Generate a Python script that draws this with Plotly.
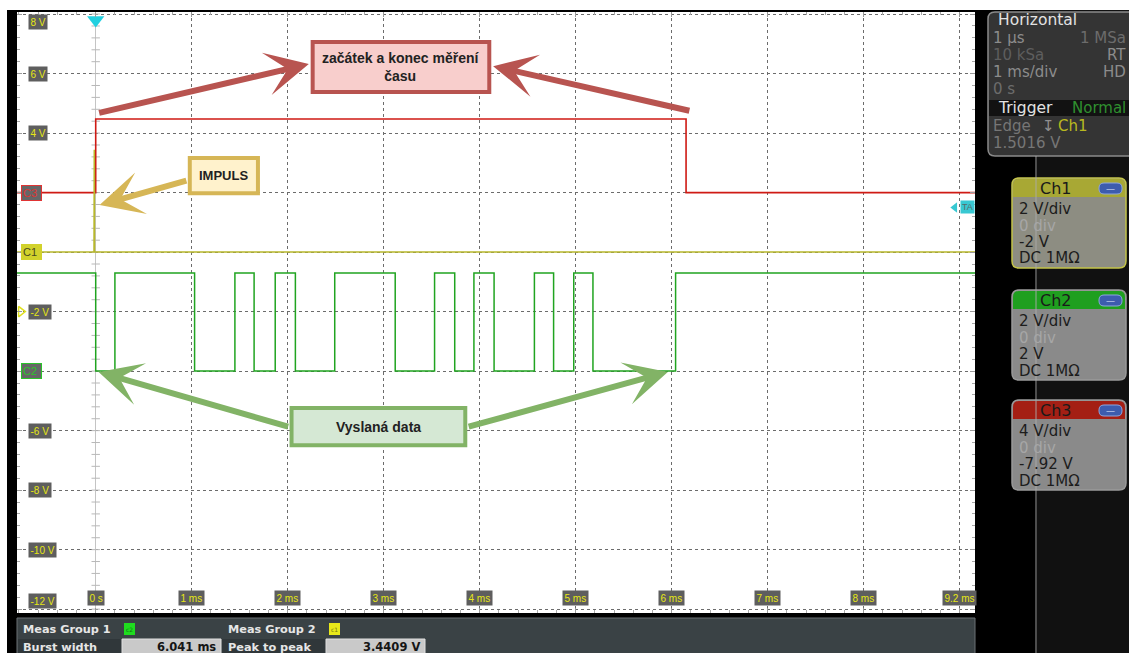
import plotly.graph_objects as go

W, H = 1129, 653

# ---- scope data (time in ms, channel voltages in V) ----
X_RANGE = [-0.82, 9.16]
Y_RANGE = [-12.13, 8.07]

X_TICKS = [0, 1, 2, 3, 4, 5, 6, 7, 8, 9]
X_TICK_TEXT = ["0 s", "1 ms", "2 ms", "3 ms", "4 ms", "5 ms", "6 ms", "7 ms", "8 ms", "9.2 ms"]
Y_TICKS = [8, 6, 4, -2, -6, -8, -10, -12]
Y_TICK_TEXT = ["8 V", "6 V", "4 V", "-2 V", "-6 V", "-8 V", "-10 V", "-12 V"]

# channel scale (V/div) and ground marker position on the 2 V/div grid
CH1_SCALE, CH1_GROUND = 2, 0
CH2_SCALE, CH2_GROUND = 2, -4
CH3_SCALE, CH3_GROUND = 4, 2
TRIGGER_LEVEL = 1.5016

# Ch1: trigger impulse
CH1_T = [-0.82, -0.018, -0.015, -0.012, 9.16]
CH1_V = [0.0, 0.0, 3.4409, 0.0, 0.0]

# Ch2: transmitted data, edge times (ms)
CH2_EDGES = [0.0, 0.20, 1.03, 1.45, 1.65, 1.87, 2.08, 2.49, 3.12, 3.53,
             3.74, 3.94, 4.15, 4.57, 4.77, 4.98, 5.18, 6.041]
CH2_HIGH, CH2_LOW = 3.3, 0.0

# Ch3: measured time window
CH3_T = [-0.82, 0.0, 6.15, 9.16]
CH3_V = [0.0, 4.95, 0.0, 0.0]

BURST_WIDTH = "6.041 ms"
PEAK_TO_PEAK = "3.4409 V"


def screen(v, scale, ground):
    return ground + v * 2.0 / scale


def fx(p):
    return p / W


def fy(p):
    return 1 - p / H


# Ch2 step levels: start high, toggle on every edge
ch2_x = [X_RANGE[0]] + CH2_EDGES + [X_RANGE[1]]
ch2_lv = [CH2_HIGH]
level = CH2_HIGH
for _ in CH2_EDGES:
    level = CH2_LOW if level == CH2_HIGH else CH2_HIGH
    ch2_lv.append(level)
ch2_lv.append(level)

fig = go.Figure()

# grid centre line ticks along t = 0
tick_y = [k * 0.4 for k in range(-30, 21)]
fig.add_trace(go.Scatter(x=[0] * len(tick_y), y=tick_y, mode="markers",
                         marker=dict(symbol="line-ew", size=6,
                                     line=dict(color="#b8b8b8", width=1)),
                         hoverinfo="skip"))

fig.add_trace(go.Scatter(x=CH3_T, y=[screen(v, CH3_SCALE, CH3_GROUND) for v in CH3_V],
                         mode="lines", line=dict(color="#cf1a14", width=1.6, shape="hv"),
                         name="Ch3"))
fig.add_trace(go.Scatter(x=CH1_T, y=[screen(v, CH1_SCALE, CH1_GROUND) for v in CH1_V],
                         mode="lines", line=dict(color="#b8b82c", width=1.5),
                         name="Ch1"))
fig.add_trace(go.Scatter(x=ch2_x, y=[screen(v, CH2_SCALE, CH2_GROUND) for v in ch2_lv],
                         mode="lines", line=dict(color="#20a420", width=1.5, shape="hv"),
                         name="Ch2"))

# trigger position (top) and trigger level (right) markers
fig.add_trace(go.Scatter(x=[0], y=[7.8], mode="markers", cliponaxis=False,
                         marker=dict(symbol="triangle-down", size=15, color="#22d0e0"),
                         hoverinfo="skip"))
fig.add_trace(go.Scatter(x=[8.95], y=[screen(TRIGGER_LEVEL, CH1_SCALE, CH1_GROUND)],
                         mode="markers", cliponaxis=False,
                         marker=dict(symbol="triangle-left", size=9, color="#38c8d2"),
                         hoverinfo="skip"))
fig.add_trace(go.Scatter(x=[X_RANGE[0] + 0.04], y=[screen(0, CH1_SCALE, -2)], mode="markers",
                         cliponaxis=False,
                         marker=dict(symbol="triangle-right-open", size=9, color="#e0e020",
                                     line=dict(color="#e0e020", width=1.5)),
                         hoverinfo="skip"))

shapes = []
ann = []


def rect(x0, y0, x1, y1, fill, line=None, lw=0, layer="above"):
    shapes.append(dict(type="rect", xref="paper", yref="paper",
                       x0=fx(x0), x1=fx(x1), y0=fy(y1), y1=fy(y0),
                       fillcolor=fill, line=dict(color=line or fill, width=lw),
                       layer=layer))


def rrect(x0, y0, x1, y1, r, fill, line=None, lw=0, top_only=False):
    # rounded rectangle built in pixel space, then mapped to paper
    def P(x, y):
        return f"{fx(x):.5f},{fy(y):.5f}"
    rb = 0 if top_only else r
    d = (f"M{P(x0 + r, y0)} L{P(x1 - r, y0)} Q{P(x1, y0)} {P(x1, y0 + r)} "
         f"L{P(x1, y1 - rb)} Q{P(x1, y1)} {P(x1 - rb, y1)} "
         f"L{P(x0 + rb, y1)} Q{P(x0, y1)} {P(x0, y1 - rb)} "
         f"L{P(x0, y0 + r)} Q{P(x0, y0)} {P(x0 + r, y0)} Z")
    shapes.append(dict(type="path", xref="paper", yref="paper", path=d,
                       fillcolor=fill, line=dict(color=line or fill, width=lw),
                       layer="above"))


def text(x, y, s, color, size=13, anchor="left", family="DejaVu Sans", weight="normal",
         bg=None, border=None, bw=0, pad=1):
    a = dict(xref="paper", yref="paper", x=fx(x), y=fy(y), text=s, showarrow=False,
             xanchor=anchor, yanchor="middle",
             font=dict(color=color, size=size, family=family, weight=weight),
             borderpad=pad)
    if bg:
        a["bgcolor"] = bg
    if border:
        a["bordercolor"] = border
        a["borderwidth"] = bw
    ann.append(a)


# ---- page framing ----
rect(0, 0, W, 10, "#ffffff")
rect(0, 0, 7, H, "#ffffff")
rect(1037, 10, W, H, "#111111")

# ---- measurement bar ----
rect(17, 618, 975, H + 2, "#3a4245", "#6b7175", 1)
rect(18, 639, 122, H + 2, "#30373a")
rect(222, 639, 326, H + 2, "#30373a")
rect(122, 639, 221, H + 2, "#c9c9c9", "#e0e0e0", 1)
rect(326, 639, 425, H + 2, "#c9c9c9", "#e0e0e0", 1)
rect(124, 623, 135, 635, "#1fdc1f")
rect(329, 623, 340, 635, "#e8e81a")
text(21, 629, "Meas Group 1", "#e6e6e6", 11.3, weight="bold")
text(226, 629, "Meas Group 2", "#e6e6e6", 11.3, weight="bold")
text(129.5, 629, "c2", "#117711", 6, anchor="center")
text(334.5, 629, "c1", "#777711", 6, anchor="center")
text(21, 647, "Burst width", "#e6e6e6", 11.3, weight="bold")
text(226, 647, "Peak to peak", "#e6e6e6", 11.3, weight="bold")
text(218, 647, BURST_WIDTH, "#151515", 11.5, anchor="right", weight="bold")
text(422, 647, PEAK_TO_PEAK, "#151515", 11.5, anchor="right", weight="bold")

# ---- horizontal / trigger panel ----
rrect(988, 12, 1140, 156, 7, "#343434", "#8a8a8a", 1.5)
rect(989, 100, 1135, 116, "#121212")
text(996, 20, "Horizontal", "#e2e2e2", 15.5)
text(991, 38, "1 µs", "#8c8c8c", 15)
text(1128, 38, "1 MSa", "#6c6c6c", 15, anchor="right")
text(991, 55, "10 kSa", "#5e5e5e", 15)
text(1128, 55, "RT", "#8c8c8c", 15, anchor="right")
text(991, 72, "1 ms/div", "#8c8c8c", 15)
text(1128, 72, "HD", "#8c8c8c", 15, anchor="right")
text(991, 89, "0 s", "#6c6c6c", 15)
text(996, 108, "Trigger", "#e2e2e2", 15.5)
text(1128, 108, "Normal", "#2f8f2f", 15, anchor="right")
text(991, 126, "Edge", "#767676", 15)
text(1040, 126, "↧", "#909090", 15)
text(1056, 126, "Ch1", "#b8b820", 15)
text(991, 143, "1.5016 V", "#767676", 15)

# ---- channel boxes ----
channels = [
    ("Ch1", 178, "#a8a834", "#c4c44a", "#8d8d82", ["2 V/div", "0 div", "-2 V", "DC 1MΩ"]),
    ("Ch2", 290, "#1f9f1f", "#9a9a9a", "#8a8a8a", ["2 V/div", "0 div", "2 V", "DC 1MΩ"]),
    ("Ch3", 400, "#a41f14", "#9a9a9a", "#8a8a8a", ["4 V/div", "0 div", "-7.92 V", "DC 1MΩ"]),
]
for name, top, head, edge, body, rows in channels:
    rrect(1012, top, 1126, top + 90, 7, body, edge, 1.5)
    rrect(1013, top + 1, 1125, top + 19, 6, head, head, 0, top_only=True)
    rrect(1099, top + 5, 1122, top + 16, 5, "#3d5cae", "#8ea6de", 1)
    text(1110.5, top + 10.5, "—", "#e8eeff", 9, anchor="center")
    text(1056, top + 10.5, name, "#1a1a1a", 16, anchor="center")
    for i, r in enumerate(rows):
        col = "#a6a6a6" if i == 1 else "#1c1c1c"
        text(1017, top + 31 + i * 16.5, r, col, 15)

# connector line on the right panel
shapes.append(dict(type="line", xref="paper", yref="paper", x0=fx(1036), x1=fx(1036),
                   y0=fy(156), y1=0, line=dict(color="rgba(170,170,170,0.45)", width=2),
                   layer="above"))

# ---- axis labels drawn inside the graticule ----
for v, s in zip(X_TICKS, X_TICK_TEXT):
    ann.append(dict(xref="x", yref="paper", x=v, y=fy(598), text=s, showarrow=False,
                    xanchor="center", yanchor="middle", bgcolor="#5e5e5e", borderpad=1.5,
                    font=dict(color="#e6e614", size=10, family="Liberation Sans")))
for v, s in zip(Y_TICKS, Y_TICK_TEXT):
    ya = "top" if v == Y_TICKS[0] else ("bottom" if v == Y_TICKS[-1] else "middle")
    ann.append(dict(xref="paper", yref="y", x=fx(28), y=v, text=s, showarrow=False,
                    xanchor="left", yanchor=ya, bgcolor="#5e5e5e", borderpad=1.5,
                    font=dict(color="#e6e614", size=10, family="Liberation Sans")))

# channel ground markers
ground_marks = [("C3", CH3_GROUND, "#e03434", "#666666", "#e03434"),
                ("C1", CH1_GROUND, "#4a4a20", "#d2d22c", "#d2d22c"),
                ("C2", CH2_GROUND, "#2ac42a", "#666666", "#2ac42a")]
for s, g, fc, bg, bc in ground_marks:
    ann.append(dict(xref="paper", yref="y", x=fx(21), y=g, text=s + " ", showarrow=False,
                    xanchor="left", yanchor="middle", bgcolor=bg, bordercolor=bc,
                    borderwidth=1, borderpad=1,
                    font=dict(color=fc, size=11, family="Liberation Sans")))
ann.append(dict(xref="x", yref="y", x=9.08, y=screen(TRIGGER_LEVEL, CH1_SCALE, CH1_GROUND),
                text="TA", showarrow=False, xanchor="center", yanchor="middle",
                bgcolor="#38c8d2", borderpad=1,
                font=dict(color="#5a6a6a", size=9, family="Liberation Sans")))

# ---- callouts ----
callouts = [
    # (x0, x1, y0, y1, fill, stroke, label, font size)
    (2.26, 4.10, 5.38, 7.06, "#f8cecc", "#b85450", "začátek a konec měření<br>času", 14),
    (0.98, 1.69, 1.98, 3.16, "#fff2cc", "#d6b656", "IMPULS", 13),
    (2.04, 3.85, -6.49, -5.24, "#d5e8d4", "#82b366", "Vyslaná data", 14),
]
for x0, x1, y0, y1, fill, stroke, label, fs in callouts:
    shapes.append(dict(type="rect", xref="x", yref="y", x0=x0, x1=x1, y0=y0, y1=y1,
                       fillcolor=fill, line=dict(color=stroke, width=4), layer="above"))
    ann.append(dict(xref="x", yref="y", x=(x0 + x1) / 2, y=(y0 + y1) / 2, text=label,
                    showarrow=False, xanchor="center", yanchor="middle",
                    font=dict(color="#222222", size=fs, family="Liberation Sans",
                              weight="bold")))

arrows = [
    # (tail x, tail y, tip x, tip y, colour)
    (0.02, 4.67, 2.22, 6.32, "#b85450"),
    (6.20, 4.74, 4.14, 6.25, "#b85450"),
    (0.96, 2.42, 0.04, 1.58, "#d6b656"),
    (2.02, -5.88, 0.03, -4.03, "#82b366"),
    (3.87, -5.88, 5.96, -4.03, "#82b366"),
]
for ax_, ay_, x_, y_, c in arrows:
    ann.append(dict(xref="x", yref="y", axref="x", ayref="y", x=x_, y=y_, ax=ax_, ay=ay_,
                    text="", showarrow=True, arrowhead=3, arrowsize=1.2, arrowwidth=6,
                    arrowcolor=c))

grid = dict(showgrid=True, gridcolor="#6c6c6c", griddash="3px,3px", gridwidth=1,
            showticklabels=False, ticks="inside", ticklen=5, tickcolor="#9a9a9a",
            mirror="ticks", showline=False, fixedrange=True)

fig.update_layout(
    width=W, height=H, autosize=False, showlegend=False,
    margin=dict(l=0, r=0, t=0, b=0, pad=0),
    paper_bgcolor="#000000", plot_bgcolor="#ffffff",
    xaxis=dict(domain=[fx(17), fx(975)], range=X_RANGE, tick0=0, dtick=1,
               zeroline=True, zerolinecolor="#c4c4c4", zerolinewidth=1,
               minor=dict(ticks="inside", ticklen=3, dtick=0.2, tickcolor="#a8a8a8",
                          showgrid=False),
               **grid),
    yaxis=dict(domain=[fy(613), fy(12)], range=Y_RANGE, tick0=0, dtick=2, zeroline=False,
               minor=dict(ticks="inside", ticklen=3, dtick=0.4, tickcolor="#a8a8a8",
                          showgrid=False),
               **grid),
    shapes=shapes,
    annotations=ann,
)

fig.write_html("out.html")
